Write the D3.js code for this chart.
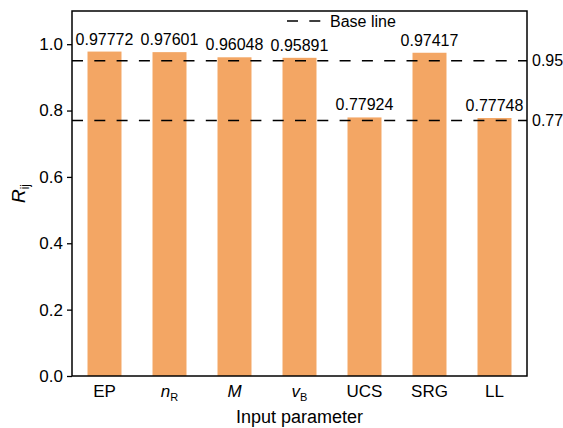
<!DOCTYPE html>
<html>
<head>
<meta charset="utf-8">
<script src="https://cdn.jsdelivr.net/npm/d3@7"></script>
<style>
  html, body { margin: 0; padding: 0; background: #fff; }
  svg { display: block; font-family: "Liberation Sans", Arial, sans-serif; }
</style>
</head>
<body>
<svg id="chart" width="563" height="428"></svg>
<script>
// Input parameters (tick labels: main text + optional subscript, italic flag)
const categories = ["EP", "nR", "M", "vB", "UCS", "SRG", "LL"];
const tickMain = ["EP", "n", "M", "v", "UCS", "SRG", "LL"];
const tickSub = ["", "R", "", "B", "", "", ""];
const tickItalic = [false, true, true, true, false, false, false];
// Correlation strength R_ij for each parameter
const values = [0.97772, 0.97601, 0.96048, 0.95891, 0.77924, 0.97417, 0.77748];
const valueLabels = ["0.97772", "0.97601", "0.96048", "0.95891", "0.77924", "0.97417", "0.77748"];
// Reference thresholds
const baseLines = [0.95, 0.77];
const baseLineLabels = ["0.95", "0.77"];
const yTicks = [0.0, 0.2, 0.4, 0.6, 0.8, 1.0];

const svg = d3.select("#chart");
const margin = { left: 72, top: 11, right: 36, bottom: 52 };
const W = 563, H = 428;
const x0 = margin.left, x1 = W - margin.right;
const y0 = H - margin.bottom, y1 = margin.top;

const x = d3.scaleBand().domain(categories).range([x0, x1])
  .paddingInner(0.477).paddingOuter(0.2385);
const y = d3.scaleLinear().domain([0, 1.1]).range([y0, y1]);

const barColor = "#F3A664";

// Bars
svg.append("g").selectAll("rect").data(values).join("rect")
  .attr("x", (d, i) => x(categories[i]))
  .attr("y", d => y(d))
  .attr("width", x.bandwidth())
  .attr("height", d => y(0) - y(d))
  .attr("fill", barColor);

// Dashed base lines
const dash = "11,11.3";
svg.append("g").selectAll("line").data(baseLines).join("line")
  .attr("x1", x0).attr("x2", x1)
  .attr("y1", d => y(d)).attr("y2", d => y(d))
  .attr("stroke", "#000").attr("stroke-width", 1.5)
  .attr("stroke-dasharray", dash);

// Base line labels on the right
svg.append("g").selectAll("text").data(baseLines).join("text")
  .attr("x", x1 + 5)
  .attr("y", d => y(d))
  .attr("dy", "0.35em")
  .attr("font-size", 16)
  .text((d, i) => baseLineLabels[i]);

// Value labels above bars
svg.append("g").selectAll("text").data(values).join("text")
  .attr("x", (d, i) => x(categories[i]) + x.bandwidth() / 2)
  .attr("y", d => y(d) - 7)
  .attr("text-anchor", "middle")
  .attr("font-size", 16)
  .text((d, i) => valueLabels[i]);

// Y axis
const yAxis = d3.axisLeft(y).tickValues(yTicks).tickFormat(d3.format(".1f"))
  .tickSize(5).tickPadding(4);
const gy = svg.append("g").attr("transform", `translate(${x0},0)`).call(yAxis);
gy.select(".domain").remove();
gy.selectAll(".tick line").attr("stroke", "#000").attr("stroke-width", 1.3);
gy.selectAll(".tick text").attr("font-size", 17).attr("fill", "#000")
  .attr("font-family", '"Liberation Sans", Arial, sans-serif');

// X axis labels (no tick marks)
const xAxis = d3.axisBottom(x).tickSize(0).tickPadding(8).tickFormat(() => "");
const gx = svg.append("g").attr("transform", `translate(0,${y0})`).call(xAxis);
gx.select(".domain").remove();
gx.selectAll(".tick text").each(function (d, i) {
  const t = d3.select(this)
    .attr("font-size", 17).attr("fill", "#000")
    .attr("font-family", '"Liberation Sans", Arial, sans-serif')
    .attr("dy", "0.75em");
  t.append("tspan").attr("font-style", tickItalic[i] ? "italic" : "normal").text(tickMain[i]);
  if (tickSub[i]) {
    t.append("tspan").attr("font-size", 11).attr("dy", 4).text(tickSub[i]);
  }
});

// Frame
svg.append("rect")
  .attr("x", x0).attr("y", y1)
  .attr("width", x1 - x0).attr("height", y0 - y1)
  .attr("fill", "none").attr("stroke", "#000").attr("stroke-width", 1.5);

// Axis titles
svg.append("text")
  .attr("x", (x0 + x1) / 2).attr("y", 423)
  .attr("text-anchor", "middle").attr("font-size", 18)
  .text("Input parameter");

const yl = svg.append("text")
  .attr("transform", `translate(25,${(y0 + y1) / 2}) rotate(-90)`)
  .attr("text-anchor", "middle").attr("font-size", 19);
yl.append("tspan").attr("font-style", "italic").text("R");
yl.append("tspan").attr("font-size", 12).attr("dy", 4).text("ij");

// Legend
const lg = svg.append("g");
lg.append("line")
  .attr("x1", 287).attr("x2", 321).attr("y1", 21).attr("y2", 21)
  .attr("stroke", "#000").attr("stroke-width", 1.5)
  .attr("stroke-dasharray", dash);
lg.append("text").attr("x", 330).attr("y", 21).attr("dy", "0.35em")
  .attr("font-size", 16).text("Base line");
</script>
</body>
</html>
